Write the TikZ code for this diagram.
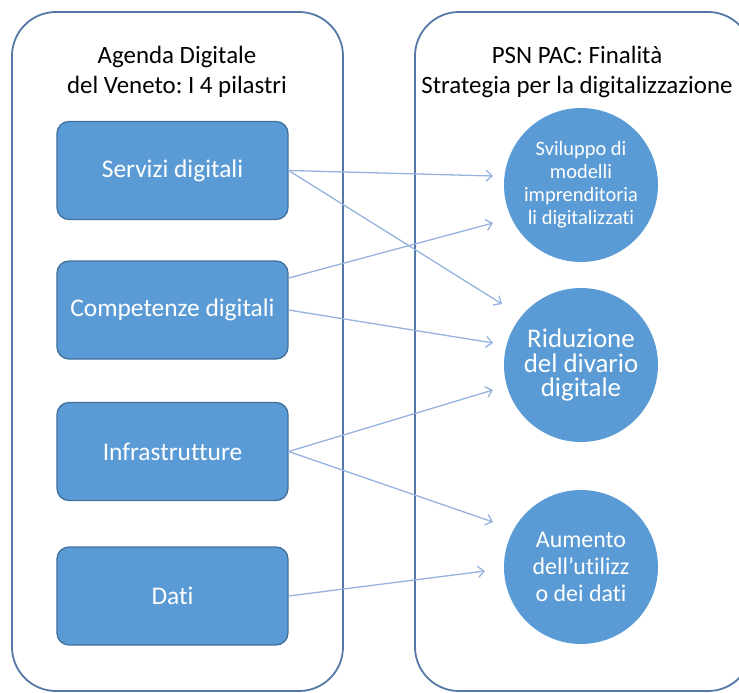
\documentclass[tikz,border=0pt]{standalone}
\usepackage{fontspec}
\setmainfont{Carlito}[Ligatures=NoCommon]
\frenchspacing
\usetikzlibrary{arrows.meta, calc}
\definecolor{pillar}{RGB}{91,155,213}
\definecolor{pillaredge}{RGB}{65,113,156}
\definecolor{frame}{RGB}{84,120,165}
\definecolor{link}{RGB}{150,178,222}

\begin{document}
\begin{tikzpicture}[x=1bp, y=-1bp,
  panel/.style={draw=frame, line width=1.8bp, rounded corners=44bp},
  hd/.style={align=center, font=\fontsize{25}{30}\selectfont},
  pil/.style={rectangle, rounded corners=12bp, draw=pillaredge, line width=1.3bp, fill=pillar, text=white, minimum width=231bp, minimum height=98bp, font=\fontsize{25.5}{29}\selectfont},
  goal/.style={circle, fill=pillar, text=white, minimum size=154bp, inner sep=0pt, align=center},
  ar/.style={-{Straight Barb[length=6bp, width=11bp]}, draw=link, line width=1.3bp}]

\useasboundingbox (0,0) rectangle (739,693);
\clip (0,0) rectangle (739,693);

\draw[panel] (12,12) rectangle (343,691);
\draw[panel] (415,12) rectangle (752,691);

\node[hd] at (177,72) (lhd) {Agenda Digitale\\del Veneto: I 4 pilastri};
\node[hd] at (577,72) (rhd) {PSN PAC: Finalità\\Strategia per la digitalizzazione};

\node[pil] at (172.5,170.5) (serv) {Servizi digitali};
\node[pil] at (172.5,310) (comp) {Competenze digitali};
\node[pil] at (172.5,451.5) (infra) {Infrastrutture};
\node[pil] at (172.5,596) (dati) {Dati};

\node[goal, font=\fontsize{20.5}{23}\selectfont] at (581,185) (svil) {Sviluppo di\\modelli\\imprenditoria\\li digitalizzati};
\node[goal, font=\fontsize{27}{25}\selectfont] at (581,365) (rid) {Riduzione\\del divario\\digitale};
\node[goal, font=\fontsize{24}{27}\selectfont] at (581,567) (aum) {Aumento\\dell’utilizz\\o dei dati};

% arrow ends, just short of the circles
\coordinate (svA) at (493,176);
\coordinate (svB) at (493,223);
\coordinate (riA) at (502,304);
\coordinate (riB) at (493,343);
\coordinate (riC) at (493,390);
\coordinate (auA) at (493,522);
\coordinate (auB) at (485,571);

\draw[ar] (serv.east) -- (svA);
\draw[ar] (serv.east) -- (riA);
\draw[ar] ($(comp.east)+(0,-32)$) -- (svB);
\draw[ar] (comp.east) -- (riB);
\draw[ar] (infra.east) -- (riC);
\draw[ar] (infra.east) -- (auA);
\draw[ar] (dati.east) -- (auB);
\end{tikzpicture}
\end{document}
